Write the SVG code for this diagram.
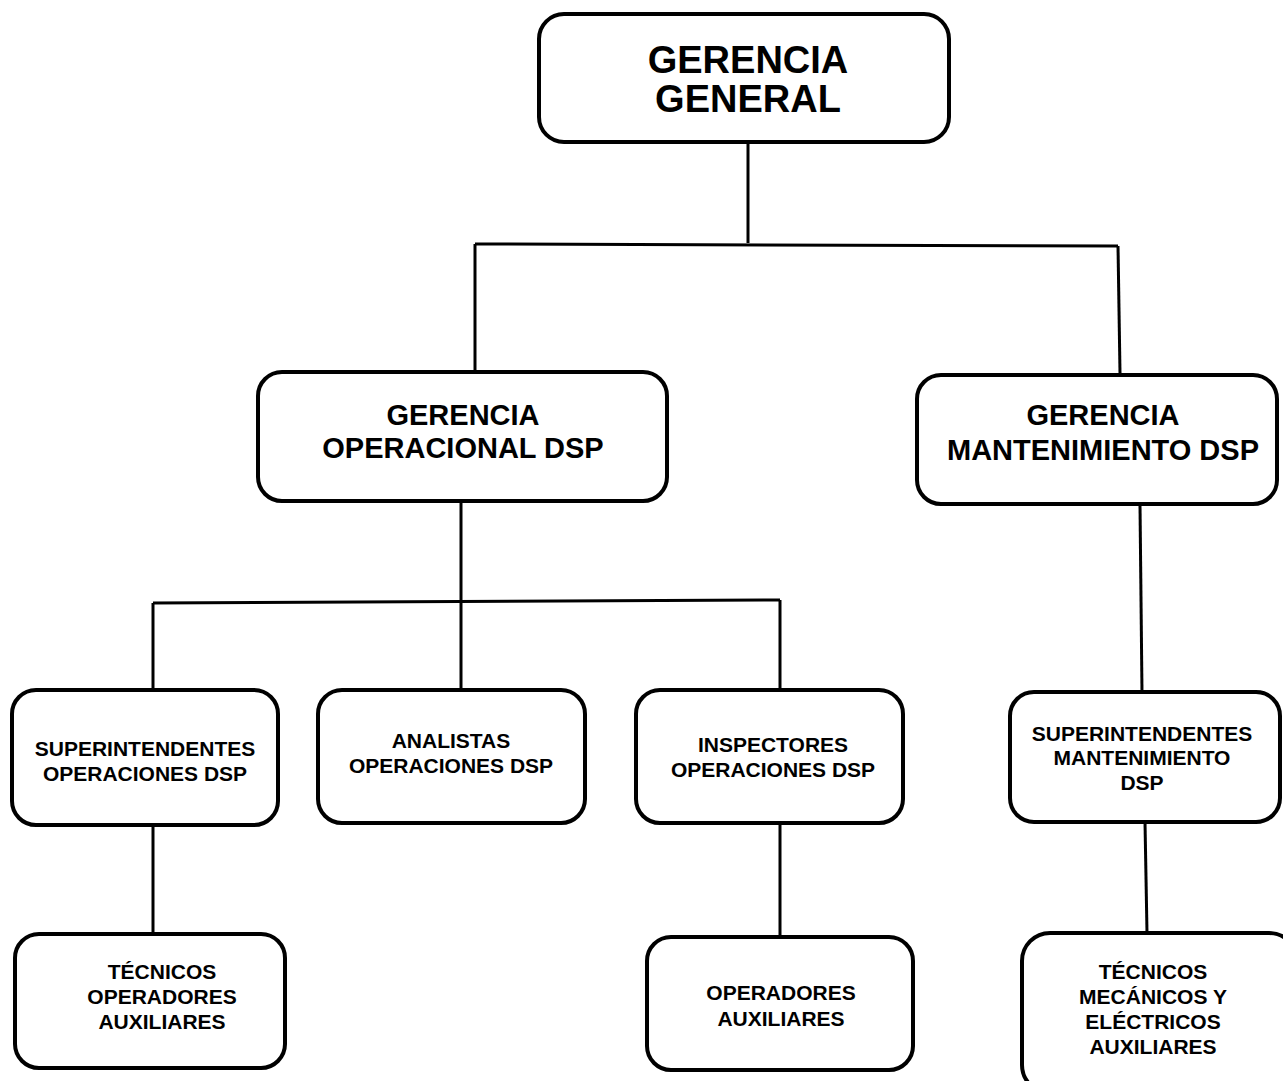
<svg xmlns="http://www.w3.org/2000/svg" width="1283" height="1081" viewBox="0 0 1283 1081">
<style>
.box{fill:#fff;stroke:#000;stroke-width:4}
.t{font-family:"Liberation Sans",Arial,sans-serif;font-weight:bold;text-anchor:middle;fill:#000}
.l{font-size:38px}
.m{font-size:29px}
.s{font-size:21px}
.c{stroke:#000;stroke-width:3;fill:none}
</style>
<rect width="1283" height="1081" fill="#fff"/>
<g id="connectors">
<line class="c" x1="748" y1="143" x2="748" y2="243"/>
<line class="c" x1="475" y1="244" x2="1118" y2="246"/>
<line class="c" x1="475" y1="244" x2="475" y2="370"/>
<line class="c" x1="1118" y1="246" x2="1120" y2="373"/>
<line class="c" x1="461" y1="500" x2="461" y2="689"/>
<line class="c" x1="153" y1="603" x2="780" y2="600"/>
<line class="c" x1="153" y1="603" x2="153" y2="690"/>
<line class="c" x1="780" y1="600" x2="780" y2="690"/>
<line class="c" x1="1140" y1="505" x2="1142" y2="692"/>
<line class="c" x1="153" y1="825" x2="153" y2="934"/>
<line class="c" x1="780" y1="823" x2="780" y2="937"/>
<line class="c" x1="1145" y1="822" x2="1147" y2="933"/>
</g>
<g id="gerencia-general">
<rect class="box" x="539" y="14" width="410" height="128" rx="25"/>
<text class="t l" x="748" y="73">GERENCIA</text>
<text class="t l" x="748" y="112">GENERAL</text>
</g>
<g id="gerencia-operacional">
<rect class="box" x="258" y="372" width="409" height="129" rx="24"/>
<text class="t m" x="463" y="425">GERENCIA</text>
<text class="t m" x="463" y="458">OPERACIONAL DSP</text>
</g>
<g id="gerencia-mantenimiento">
<rect class="box" x="917" y="375" width="360" height="129" rx="24"/>
<text class="t m" x="1103" y="425">GERENCIA</text>
<text class="t m" x="1103" y="460">MANTENIMIENTO DSP</text>
</g>
<g id="superintendentes-operaciones">
<rect class="box" x="12" y="690" width="266" height="135" rx="24"/>
<text class="t s" x="145" y="756">SUPERINTENDENTES</text>
<text class="t s" x="145" y="781">OPERACIONES DSP</text>
</g>
<g id="analistas">
<rect class="box" x="318" y="690" width="267" height="133" rx="24"/>
<text class="t s" x="451" y="748">ANALISTAS</text>
<text class="t s" x="451" y="773">OPERACIONES DSP</text>
</g>
<g id="inspectores">
<rect class="box" x="636" y="690" width="267" height="133" rx="24"/>
<text class="t s" x="773" y="752">INSPECTORES</text>
<text class="t s" x="773" y="777">OPERACIONES DSP</text>
</g>
<g id="superintendentes-mantenimiento">
<rect class="box" x="1010" y="692" width="270" height="130" rx="24"/>
<text class="t s" x="1142" y="741">SUPERINTENDENTES</text>
<text class="t s" x="1142" y="765">MANTENIMIENTO</text>
<text class="t s" x="1142" y="790">DSP</text>
</g>
<g id="tecnicos-operadores">
<rect class="box" x="15" y="934" width="270" height="134" rx="24"/>
<text class="t s" x="162" y="979">TÉCNICOS</text>
<text class="t s" x="162" y="1004">OPERADORES</text>
<text class="t s" x="162" y="1029">AUXILIARES</text>
</g>
<g id="operadores-auxiliares">
<rect class="box" x="647" y="937" width="266" height="133" rx="24"/>
<text class="t s" x="781" y="1000">OPERADORES</text>
<text class="t s" x="781" y="1026">AUXILIARES</text>
</g>
<g id="tecnicos-mecanicos">
<rect class="box" x="1022" y="933" width="275" height="160" rx="28"/>
<text class="t s" x="1153" y="979">TÉCNICOS</text>
<text class="t s" x="1153" y="1004">MECÁNICOS Y</text>
<text class="t s" x="1153" y="1029">ELÉCTRICOS</text>
<text class="t s" x="1153" y="1054">AUXILIARES</text>
</g>
</svg>
